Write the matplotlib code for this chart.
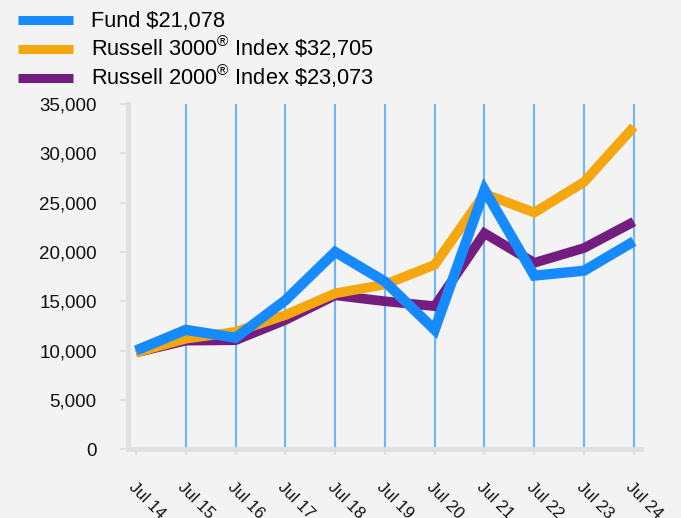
import matplotlib.pyplot as plt
from matplotlib.ticker import FuncFormatter

plt.rcParams['font.family'] = ['Liberation Sans', 'DejaVu Sans']
plt.rcParams['mathtext.fontset'] = 'custom'
plt.rcParams['mathtext.rm'] = 'Liberation Sans'

# data
years = ["Jul 14", "Jul 15", "Jul 16", "Jul 17", "Jul 18", "Jul 19",
         "Jul 20", "Jul 21", "Jul 22", "Jul 23", "Jul 24"]
fund = [10000, 12100, 11300, 15100, 20000, 17000, 12100, 26300, 17600, 18100, 21078]
russell3000 = [9800, 11200, 11900, 13600, 15800, 16700, 18700, 25900, 24000, 27100, 32705]
russell2000 = [9800, 11000, 11050, 13100, 15600, 15000, 14500, 21900, 18900, 20400, 23073]

labels = [r"Fund \$21,078",
          r"Russell 3000$^{\mathrm{®}}$ Index \$32,705",
          r"Russell 2000$^{\mathrm{®}}$ Index \$23,073"]

bg = "#F3F3F3"
c_fund = "#168AFF"
c_r3 = "#F5A70F"
c_r2 = "#741D80"
spine_c = "#E0E0E0"

fig = plt.figure(figsize=(6.81, 5.18), dpi=100, facecolor=bg)
ax = fig.add_axes([0.188, 0.133, 0.753, 0.666])
ax.set_facecolor(bg)

x = list(range(len(years)))
for xi in x[1:]:
    ax.axvline(xi, color="#6DB5FF", lw=1.5, zorder=1)

style = dict(solid_joinstyle="miter", solid_capstyle="butt")
l2, = ax.plot(x, russell2000, color=c_r2, lw=7, zorder=3, **style)
l3, = ax.plot(x, russell3000, color=c_r3, lw=7, zorder=4, **style)
l1, = ax.plot(x, fund, color=c_fund, lw=7.4, zorder=5, **style)

ax.set_xlim(-0.16, 10.14)
ax.set_ylim(0, 35000)
ax.set_yticks(range(0, 35001, 5000))
ax.yaxis.set_major_formatter(FuncFormatter(lambda v, p: f"{int(v):,}"))
ax.set_xticks(x)
ax.set_xticklabels(years, rotation=-45, ha="left", va="top", rotation_mode="anchor")

for s in ["top", "right"]:
    ax.spines[s].set_visible(False)
for s in ["left", "bottom"]:
    ax.spines[s].set_color(spine_c)
    ax.spines[s].set_linewidth(3.5)
ax.tick_params(axis="y", colors=spine_c, labelcolor="#111111", labelsize=13.5,
               length=6, width=1.5, pad=16.5)
ax.tick_params(axis="x", colors=spine_c, labelcolor="#111111", labelsize=12,
               length=4, width=1.5, pad=18)

leg = fig.legend([l1, l3, l2], labels, loc="upper left", bbox_to_anchor=(0.014, 0.995),
                 frameon=False, fontsize=15.7, handlelength=2.5, handletextpad=0.85,
                 labelspacing=0.08, borderaxespad=0)
for h in leg.get_lines():
    h.set_linewidth(6.5)
    h.set_solid_capstyle("butt")

fig.savefig("out.png", dpi=100, facecolor=bg)
